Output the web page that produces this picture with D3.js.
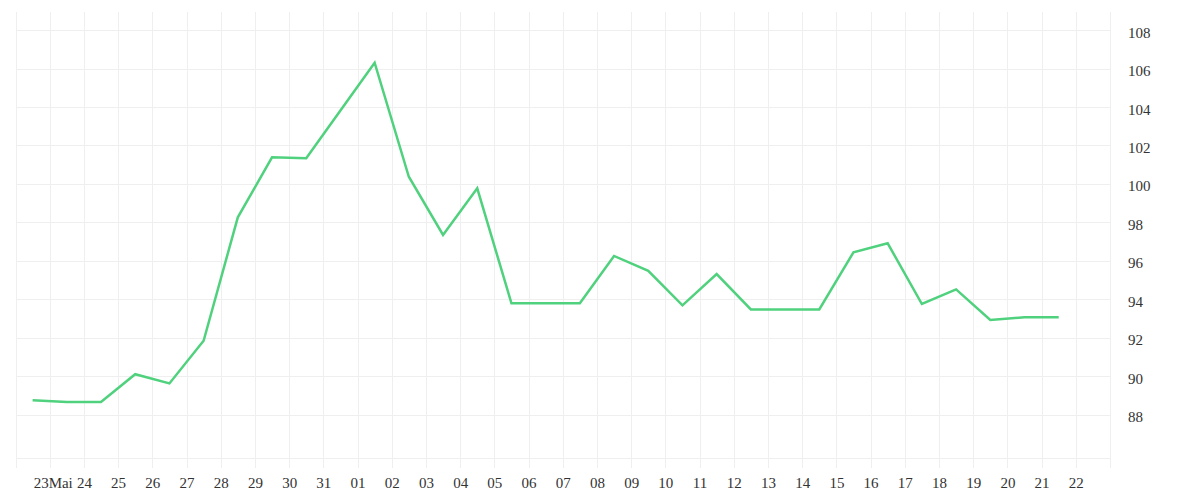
<!DOCTYPE html>
<meta charset="utf-8">
<head>
<style>
  body { margin: 0; background: #fff; }
  .axis text { font-family: "Liberation Serif", serif; font-size: 15px; fill: #333; }
  .grid line { stroke: #efefef; stroke-width: 1; shape-rendering: crispEdges; }
</style>
</head>
<body>
  <script src="https://d3js.org/d3.v7.min.js"></script>
  <script>
    // daily values, one per day starting 22 May
    var days = ["2023-05-22", "2023-05-23", "2023-05-24", "2023-05-25", "2023-05-26", "2023-05-27",
      "2023-05-28", "2023-05-29", "2023-05-30", "2023-05-31", "2023-06-01", "2023-06-02",
      "2023-06-03", "2023-06-04", "2023-06-05", "2023-06-06", "2023-06-07", "2023-06-08",
      "2023-06-09", "2023-06-10", "2023-06-11", "2023-06-12", "2023-06-13", "2023-06-14",
      "2023-06-15", "2023-06-16", "2023-06-17", "2023-06-18", "2023-06-19", "2023-06-20",
      "2023-06-21"];
    var values = [88.75, 88.65, 88.65, 90.1, 89.62, 91.84, 98.26, 101.38, 101.33, 103.82,
      106.3, 100.37, 97.34, 99.77, 93.79, 93.79, 93.79, 96.25, 95.48, 93.68, 95.31,
      93.47, 93.47, 93.47, 96.44, 96.91, 93.75, 94.51, 92.92, 93.06, 93.06];

    var tickDays = ["2023-05-23", "2023-05-24", "2023-05-25", "2023-05-26", "2023-05-27",
      "2023-05-28", "2023-05-29", "2023-05-30", "2023-05-31", "2023-06-01", "2023-06-02",
      "2023-06-03", "2023-06-04", "2023-06-05", "2023-06-06", "2023-06-07", "2023-06-08",
      "2023-06-09", "2023-06-10", "2023-06-11", "2023-06-12", "2023-06-13", "2023-06-14",
      "2023-06-15", "2023-06-16", "2023-06-17", "2023-06-18", "2023-06-19", "2023-06-20",
      "2023-06-21", "2023-06-22"];
    var tickLabels = ["23Mai", "24", "25", "26", "27", "28", "29", "30", "31", "01", "02",
      "03", "04", "05", "06", "07", "08", "09", "10", "11", "12", "13", "14", "15", "16",
      "17", "18", "19", "20", "21", "22"];
    var yTicks = [88, 90, 92, 94, 96, 98, 100, 102, 104, 106, 108];

    var width = 1200, height = 500;
    var plotLeft = 15.5, plotRight = 1110, plotTop = 12, plotBottom = 458;

    var parse = d3.timeParse("%Y-%m-%d");
    var data = days.map(function (d, i) {
      return { date: d3.timeHour.offset(parse(d), 12), value: values[i] };
    });

    var x = d3.scaleTime()
      .domain([parse("2023-05-22"), parse("2023-06-23")])
      .range([plotLeft, plotRight]);

    var y = d3.scaleLinear()
      .domain([85.74, 108.94])
      .range([plotBottom, plotTop]);

    var svg = d3.select("body")
      .append("svg")
      .attr("width", width)
      .attr("height", height);

    // vertical grid, one line per day, running a bit past the bottom as ticks
    svg.append("g")
      .attr("class", "grid")
      .selectAll("line")
      .data(d3.timeDay.range(parse("2023-05-22"), parse("2023-06-24")))
      .enter().append("line")
      .attr("x1", function (d) { return Math.round(x(d)) + 0.5; })
      .attr("x2", function (d) { return Math.round(x(d)) + 0.5; })
      .attr("y1", plotTop)
      .attr("y2", plotBottom + 10);

    // horizontal grid
    svg.append("g")
      .attr("class", "grid")
      .selectAll("line")
      .data(yTicks)
      .enter().append("line")
      .attr("x1", plotLeft)
      .attr("x2", plotRight)
      .attr("y1", function (d) { return Math.round(y(d)) + 0.5; })
      .attr("y2", function (d) { return Math.round(y(d)) + 0.5; });

    svg.append("g")
      .attr("class", "grid")
      .append("line")
      .attr("x1", plotLeft)
      .attr("x2", plotRight)
      .attr("y1", plotBottom + 0.5)
      .attr("y2", plotBottom + 0.5);

    // x labels
    var xAxis = d3.axisBottom(x)
      .tickValues(tickDays.map(parse))
      .tickFormat(function (d, i) { return tickLabels[i]; })
      .tickSize(0)
      .tickPadding(0);

    var gx = svg.append("g")
      .attr("class", "axis")
      .attr("transform", "translate(0," + (plotBottom + 30) + ")")
      .call(xAxis);
    gx.select(".domain").remove();
    gx.selectAll("text").attr("dy", 0).attr("y", 0);
    gx.selectAll("text").filter(function (d, i) { return i === 0; }).attr("dx", 3);

    // y labels on the right
    var yAxis = d3.axisRight(y)
      .tickValues(yTicks)
      .tickSize(0)
      .tickPadding(0);

    var gy = svg.append("g")
      .attr("class", "axis")
      .attr("transform", "translate(1128,0)")
      .call(yAxis);
    gy.select(".domain").remove();
    gy.selectAll("text").attr("dy", "0.47em");

    var line = d3.line()
      .x(function (d) { return x(d.date); })
      .y(function (d) { return y(d.value); });

    svg.append("path")
      .datum(data)
      .attr("d", line)
      .style("fill", "none")
      .style("stroke", "#4fd17d")
      .style("stroke-width", 2.5)
      .style("stroke-linejoin", "miter");
  </script>
</body>
